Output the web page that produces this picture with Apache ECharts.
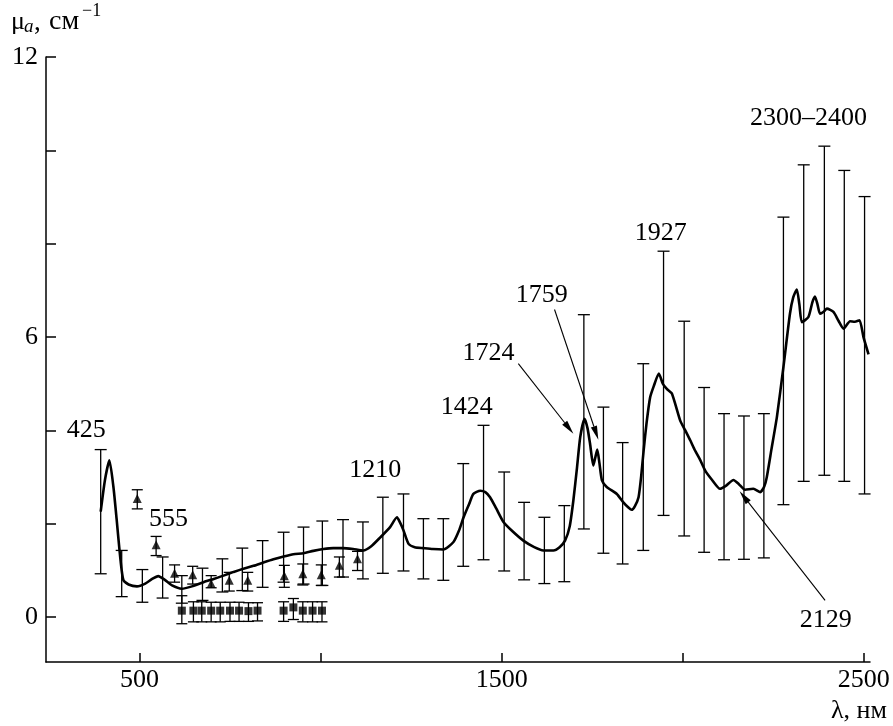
<!DOCTYPE html>
<html><head><meta charset="utf-8">
<script src="https://cdn.jsdelivr.net/npm/echarts@6/dist/echarts.min.js"></script>
<style>html,body{margin:0;padding:0;background:#fff}#c{width:893px;height:726px}</style>
</head><body><div id="c"></div>
<script>
// Main spectrum [λ nm, μa cm^-1]
const spectrum = [
[393,2.26],[405,2.95],[417,3.36],[428,2.8],[437,2.1],[445,1.43],[451,1.0],[456,0.79],[470,0.70],[493,0.66],[516,0.72],[535,0.82],[552,0.88],[570,0.80],[590,0.68],[617,0.61],[645,0.66],[677,0.75],[705,0.82],[732,0.89],[760,0.97],[787,1.04],[815,1.10],[842,1.17],[870,1.24],[898,1.30],[925,1.35],[953,1.37],[980,1.42],[1008,1.46],[1035,1.48],[1062,1.48],[1090,1.46],[1118,1.43],[1140,1.52],[1165,1.71],[1192,1.93],[1211,2.14],[1220,2.02],[1229,1.86],[1243,1.57],[1260,1.50],[1284,1.48],[1310,1.46],[1339,1.45],[1367,1.61],[1382,1.85],[1395,2.14],[1410,2.42],[1422,2.64],[1441,2.71],[1455,2.68],[1468,2.57],[1485,2.33],[1505,2.04],[1530,1.84],[1560,1.64],[1590,1.50],[1615,1.43],[1643,1.43],[1660,1.50],[1675,1.64],[1688,1.95],[1698,2.50],[1708,3.2],[1717,3.86],[1729,4.25],[1737,4.05],[1744,3.72],[1753,3.25],[1758,3.4],[1764,3.59],[1770,3.3],[1777,2.93],[1790,2.79],[1818,2.64],[1836,2.46],[1850,2.35],[1859,2.30],[1868,2.38],[1878,2.57],[1885,3.0],[1892,3.57],[1900,4.15],[1910,4.71],[1920,4.95],[1934,5.22],[1945,5.0],[1956,4.89],[1970,4.79],[1993,4.21],[2007,4.00],[2020,3.80],[2034,3.57],[2048,3.37],[2062,3.14],[2080,2.95],[2103,2.75],[2120,2.82],[2140,2.94],[2155,2.85],[2172,2.73],[2195,2.75],[2214,2.68],[2225,2.80],[2232,3.00],[2245,3.6],[2260,4.29],[2278,5.36],[2296,6.50],[2305,6.85],[2315,7.02],[2322,6.7],[2329,6.32],[2347,6.43],[2358,6.75],[2365,6.87],[2372,6.7],[2379,6.50],[2390,6.55],[2398,6.61],[2416,6.54],[2430,6.35],[2444,6.18],[2462,6.34],[2475,6.33],[2488,6.36],[2499,6.00],[2513,5.63]
];
// Error bars of spectrum [λ, low, high]
const spectrumErr = [
[393,0.93,3.59],[451,0.44,1.43],[508,0.32,1.02],[564,0.41,1.29],[617,0.30,0.89],[674,0.36,1.05],[729,0.54,1.25],[784,0.57,1.48],[840,0.64,1.64],[898,0.75,1.82],[953,0.71,1.93],[1005,0.68,2.06],[1062,0.86,2.09],[1117,0.82,2.04],[1172,0.94,2.57],[1229,0.99,2.64],[1284,0.82,2.11],[1339,0.79,2.11],[1394,1.09,3.29],[1450,1.23,4.11],[1507,0.99,3.11],[1562,0.80,2.46],[1618,0.72,2.14],[1673,0.76,2.39],[1727,1.89,6.48],[1781,1.37,4.50],[1834,1.14,3.74],[1891,1.43,5.43],[1947,2.18,7.84],[2004,1.74,6.34],[2059,1.39,4.92],[2114,1.23,4.36],[2169,1.24,4.31],[2224,1.27,4.36],[2278,2.41,8.57],[2334,2.91,9.69],[2391,3.04,10.09],[2446,2.91,9.57],[2502,2.64,9.01]
];
// Triangles [λ, μ, low, high]
const triangles = [
[494,2.54,2.32,2.73],[546,1.55,1.32,1.73],[597,0.94,0.75,1.12],[647,0.91,0.71,1.09],[698,0.72,0.63,0.89],[748,0.79,0.56,0.96],[799,0.79,0.56,0.96],[900,0.89,0.64,1.11],[951,0.93,0.69,1.14],[1002,0.91,0.68,1.12],[1052,1.11,0.86,1.29],[1102,1.25,1.00,1.41]
];
// Squares [λ, μ, low, high]
const squares = [
[617,0.14,-0.14,0.46],[649,0.14,-0.10,0.33],[672,0.14,-0.10,0.33],[698,0.14,-0.10,0.32],[723,0.14,-0.10,0.32],[750,0.14,-0.09,0.32],[775,0.14,-0.09,0.32],[801,0.13,-0.09,0.31],[826,0.14,-0.08,0.31],[898,0.14,-0.09,0.33],[925,0.21,-0.05,0.40],[951,0.14,-0.10,0.33],[978,0.14,-0.10,0.33],[1004,0.14,-0.10,0.33]
];
const xTicks = [500,1000,1500,2000,2500];
const xLabels = [500,1500,2500];
const yTicks = [0,2,4,6,8,10,12];
const yLabels = [0,6,12];
// Peak annotation texts [λ, μ, text]
const peakLabels = [
[353,4.0,'425'],[580,2.11,'555'],[1151,3.14,'1210'],[1404,4.5,'1424'],[1464,5.66,'1724'],[1611,6.89,'1759'],[1939,8.23,'1927'],[2347,10.68,'2300–2400'],[2395,-0.07,'2129']
];
// Arrows [λ1, μ1, λ2(tip), μ2(tip)]
const arrows = [
[1546,5.43,1698,3.93],[1646,6.59,1767,3.80],[2393,0.36,2157,2.70]
];

const FONT = '"Liberation Serif","Times New Roman",serif';
const FS = 26;

function errRender(capW){
  return function(params, api){
    const x = api.value(0), lo = api.value(1), hi = api.value(2);
    const p1 = api.coord([x, lo]), p2 = api.coord([x, hi]);
    const st = {stroke:'#000', lineWidth:1.3};
    return {type:'group', children:[
      {type:'line', shape:{x1:p1[0],y1:p1[1],x2:p2[0],y2:p2[1]}, style:st},
      {type:'line', shape:{x1:p1[0]-capW/2,y1:p1[1],x2:p1[0]+capW/2,y2:p1[1]}, style:st},
      {type:'line', shape:{x1:p2[0]-capW/2,y1:p2[1],x2:p2[0]+capW/2,y2:p2[1]}, style:st}
    ]};
  };
}

const chart = echarts.init(document.getElementById('c'), null, {renderer:'canvas'});
chart.setOption({
  animation:false,
  backgroundColor:'#fff',
  grid:{left:46,right:23,top:57,bottom:64,containLabel:false},
  xAxis:{
    type:'value', min:242, max:2517,
    axisLine:{onZero:false, lineStyle:{color:'#000', width:1.5}},
    axisTick:{inside:true, length:9, lineStyle:{color:'#000', width:1.5}, customValues:xTicks},
    axisLabel:{customValues:xLabels, formatter:function(v){return String(v);}, color:'#000', fontFamily:FONT, fontSize:FS, margin:5},
    splitLine:{show:false}
  },
  yAxis:{
    type:'value', min:-0.96, max:12,
    axisLine:{show:true, onZero:false, lineStyle:{color:'#000', width:1.5}},
    axisTick:{show:true, inside:true, length:10, lineStyle:{color:'#000', width:1.5}, customValues:yTicks},
    axisLabel:{customValues:yLabels, formatter:function(v){return String(v);}, color:'#000', fontFamily:FONT, fontSize:FS, margin:8},
    splitLine:{show:false}
  },
  graphic:[
    {type:'text', left:11, top:9, style:{text:'μ', font:'26px '+FONT, fill:'#000'}},
    {type:'text', left:24, top:17, style:{text:'a', font:'italic 19px '+FONT, fill:'#000'}},
    {type:'text', left:34, top:9, style:{text:',', font:'27px '+FONT, fill:'#000'}},
    {type:'text', left:49, top:8, style:{text:'см', font:'28px '+FONT, fill:'#000'}},
    {type:'text', left:82, top:2, style:{text:'−1', font:'18px '+FONT, fill:'#000'}},
    {type:'text', left:831, top:698, style:{text:'λ, нм', font:'26px '+FONT, fill:'#000'}}
  ],
  series:[
    {type:'custom', name:'spectrumErr', renderItem:errRender(12), data:spectrumErr, encode:{x:0,y:[1,2]}, z:2, silent:true},
    {type:'custom', name:'triErr', renderItem:errRender(11), data:triangles.map(d=>[d[0],d[2],d[3]]), encode:{x:0,y:[1,2]}, z:2, silent:true},
    {type:'custom', name:'sqErr', renderItem:errRender(11), data:squares.map(d=>[d[0],d[2],d[3]]), encode:{x:0,y:[1,2]}, z:2, silent:true},
    {type:'line', name:'spectrum', data:spectrum, showSymbol:false, smooth:0.2, lineStyle:{color:'#000', width:2.6}, z:5, silent:true},
    {type:'scatter', name:'triangles', data:triangles.map(d=>[d[0],d[1]]), symbol:'triangle', symbolSize:9, itemStyle:{color:'#000'}, z:6, silent:true},
    {type:'scatter', name:'squares', data:squares.map(d=>[d[0],d[1]]), symbol:'rect', symbolSize:8, itemStyle:{color:'#000'}, z:6, silent:true},
    {type:'custom', name:'arrows', data:arrows, encode:{x:[0,2],y:[1,3]}, z:7, silent:true,
      renderItem:function(params, api){
        const a = arrows[params.dataIndex];
        const p1 = api.coord([a[0],a[1]]), p2 = api.coord([a[2],a[3]]);
        const dx = p2[0]-p1[0], dy = p2[1]-p1[1], L = Math.sqrt(dx*dx+dy*dy);
        const ux = dx/L, uy = dy/L, hl = 14, hw = 3.2;
        const bx = p2[0]-ux*hl, by = p2[1]-uy*hl;
        return {type:'group', children:[
          {type:'line', shape:{x1:p1[0],y1:p1[1],x2:bx,y2:by}, style:{stroke:'#000', lineWidth:1.1}},
          {type:'polygon', shape:{points:[[p2[0],p2[1]],[bx-uy*hw,by+ux*hw],[bx+uy*hw,by-ux*hw]]}, style:{fill:'#000'}}
        ]};
      }},
    {type:'custom', name:'peakLabels', data:peakLabels.map(d=>[d[0],d[1]]), encode:{x:0,y:1}, z:8, silent:true, clip:false,
      renderItem:function(params, api){
        const d = peakLabels[params.dataIndex];
        const p = api.coord([d[0],d[1]]);
        return {type:'text', x:p[0], y:p[1], style:{text:d[2], font:FS+'px '+FONT, fill:'#000', align:'center', verticalAlign:'middle'}};
      }}
  ]
});
</script></body></html>
